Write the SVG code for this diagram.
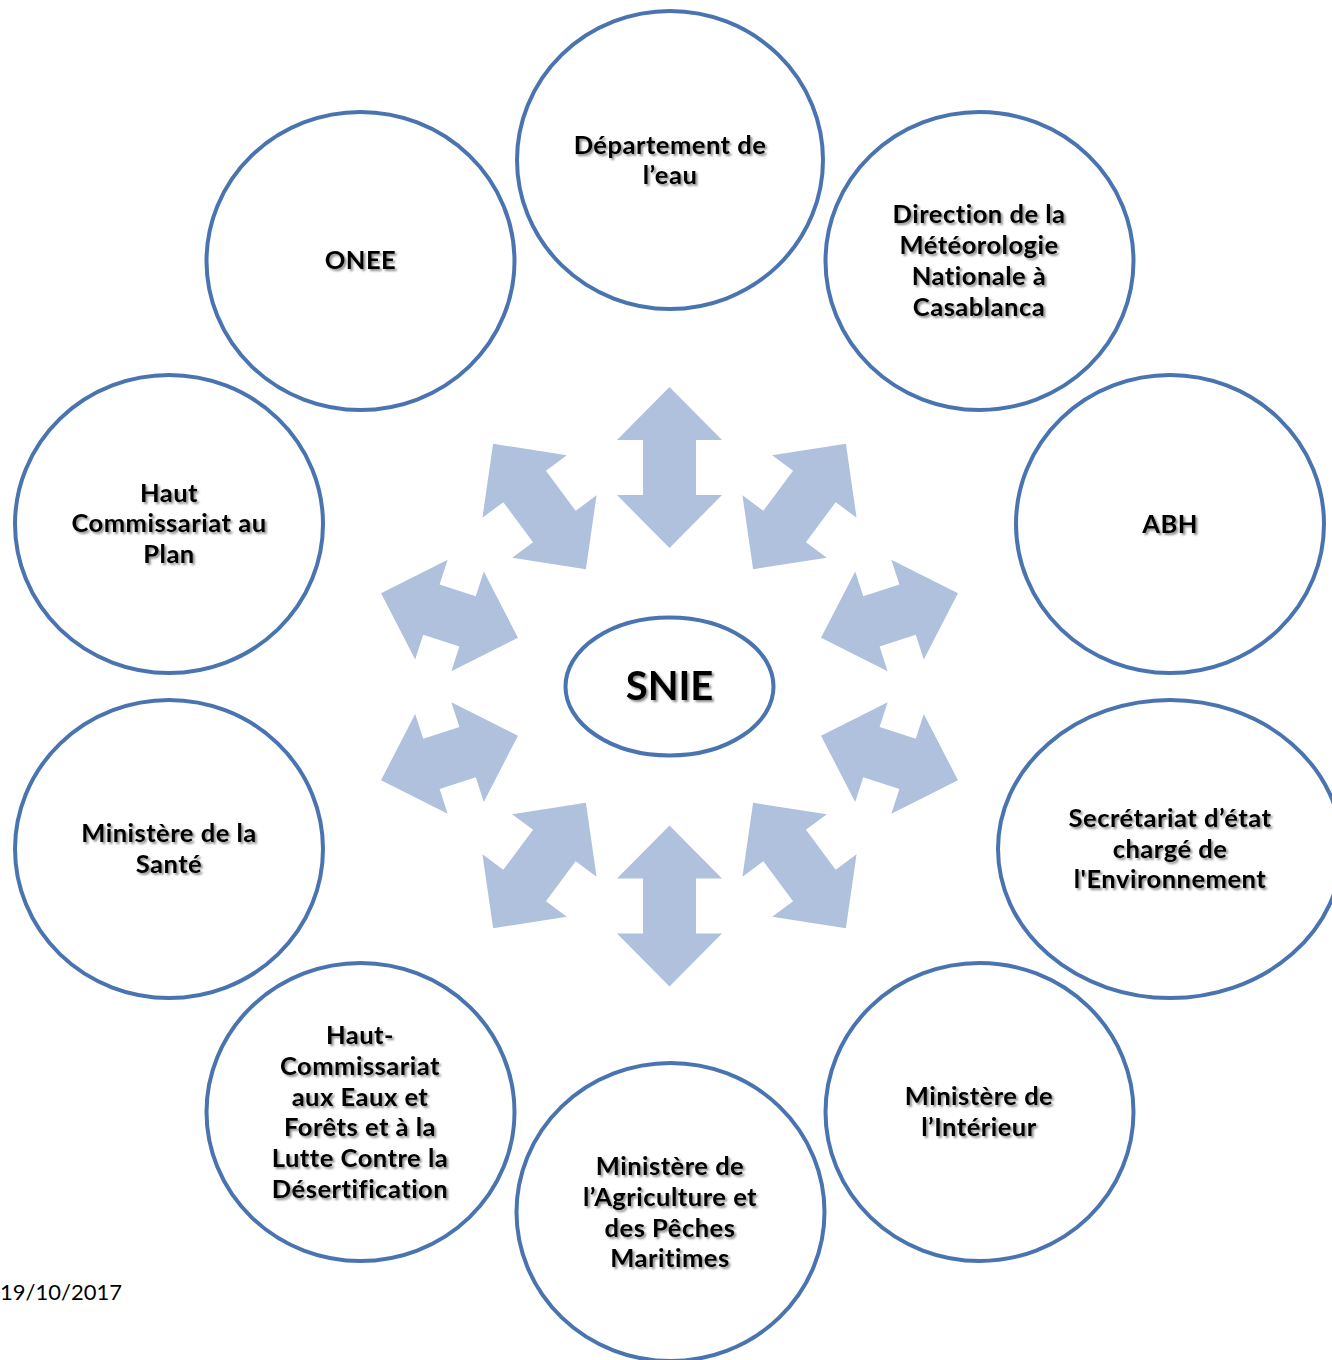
<svg xmlns="http://www.w3.org/2000/svg" xmlns:xlink="http://www.w3.org/1999/xlink" width="1332" height="1360" viewBox="0 0 1332 1360">
<style>
.node{fill:#ffffff;stroke:#4a74b0;stroke-width:4}
.arrow{fill:#b0c1dd}
.lbl{font-family:Lato,"Open Sans","Liberation Sans",sans-serif;font-weight:bold;font-size:25.5px;letter-spacing:0.5px;fill:#000;text-anchor:middle}
.snie{font-family:Lato,"Open Sans","Liberation Sans",sans-serif;font-weight:bold;font-size:40px;fill:#000;text-anchor:middle}
.date{font-family:Lato,"Open Sans","Liberation Sans",sans-serif;font-size:22px;fill:#000}
</style>
<defs>
<filter id="sh" x="-10%" y="-20%" width="120%" height="150%">
<feDropShadow dx="2" dy="2" stdDeviation="1.2" flood-color="#000" flood-opacity="0.45"/>
</filter>
<polygon id="a161" points="0,-80.5 52.5,-27.5 26.5,-27.5 26.5,27.5 52.5,27.5 0,80.5 -52.5,27.5 -26.5,27.5 -26.5,-27.5 -52.5,-27.5"/>
<polygon id="a156" points="0,-78 52.5,-25 26.5,-25 26.5,25 52.5,25 0,78 -52.5,25 -26.5,25 -26.5,-25 -52.5,-25"/>
<polygon id="a144" points="0,-72 52.5,-19 26.5,-19 26.5,19 52.5,19 0,72 -52.5,19 -26.5,19 -26.5,-19 -52.5,-19"/>
</defs>
<rect width="1332" height="1360" fill="#ffffff"/>
<g id="connectors" class="arrow">
<use xlink:href="#a161" transform="translate(669.5,467.5)"/>
<use xlink:href="#a156" transform="translate(539.5,506.5) rotate(-36.5)"/>
<use xlink:href="#a156" transform="translate(799.5,506.5) rotate(36.5)"/>
<use xlink:href="#a144" transform="translate(449.5,615.5) rotate(-72)"/>
<use xlink:href="#a144" transform="translate(889.5,615.5) rotate(72)"/>
<use xlink:href="#a144" transform="translate(449.5,758) rotate(-108)"/>
<use xlink:href="#a144" transform="translate(889.5,758) rotate(108)"/>
<use xlink:href="#a156" transform="translate(539.5,865.5) rotate(-143.5)"/>
<use xlink:href="#a156" transform="translate(799.5,865.5) rotate(143.5)"/>
<use xlink:href="#a161" transform="translate(669.5,906)"/>
</g>
<g id="snie">
<ellipse class="node" cx="669.5" cy="686.5" rx="104" ry="69"/>
<text class="snie" x="669.5" y="700" filter="url(#sh)">SNIE</text>
</g>
<g id="n-departement">
<ellipse class="node" cx="670" cy="160" rx="153" ry="149"/>
<text class="lbl" filter="url(#sh)"><tspan x="670" y="154">Département de</tspan><tspan x="670" y="184">l’eau</tspan></text>
</g>
<g id="n-onee">
<ellipse class="node" cx="360.5" cy="261" rx="154" ry="149"/>
<text class="lbl" filter="url(#sh)"><tspan x="360.5" y="269">ONEE</tspan></text>
</g>
<g id="n-direction">
<ellipse class="node" cx="979.5" cy="261" rx="154" ry="149"/>
<text class="lbl" filter="url(#sh)"><tspan x="979" y="223">Direction de la</tspan><tspan x="979" y="254">Météorologie</tspan><tspan x="979" y="285">Nationale à</tspan><tspan x="979" y="316">Casablanca</tspan></text>
</g>
<g id="n-hcp">
<ellipse class="node" cx="169" cy="524" rx="154" ry="149"/>
<text class="lbl" filter="url(#sh)"><tspan x="169" y="502">Haut</tspan><tspan x="169" y="532">Commissariat au</tspan><tspan x="169" y="563">Plan</tspan></text>
</g>
<g id="n-abh">
<ellipse class="node" cx="1170" cy="524" rx="154" ry="149"/>
<text class="lbl" filter="url(#sh)"><tspan x="1170" y="533">ABH</tspan></text>
</g>
<g id="n-sante">
<ellipse class="node" cx="169" cy="849" rx="154" ry="149"/>
<text class="lbl" filter="url(#sh)"><tspan x="169" y="842">Ministère de la</tspan><tspan x="169" y="873">Santé</tspan></text>
</g>
<g id="n-secretariat">
<ellipse class="node" cx="1170" cy="849" rx="172" ry="149"/>
<text class="lbl" filter="url(#sh)"><tspan x="1170" y="827">Secrétariat d’état</tspan><tspan x="1170" y="858">chargé de</tspan><tspan x="1170" y="888">l'Environnement</tspan></text>
</g>
<g id="n-hcef">
<ellipse class="node" cx="360.5" cy="1112" rx="154" ry="149"/>
<text class="lbl" filter="url(#sh)"><tspan x="360" y="1044">Haut-</tspan><tspan x="360" y="1075">Commissariat</tspan><tspan x="360" y="1106">aux Eaux et</tspan><tspan x="360" y="1136">Forêts et à la</tspan><tspan x="360" y="1167">Lutte Contre la</tspan><tspan x="360" y="1198">Désertification</tspan></text>
</g>
<g id="n-interieur">
<ellipse class="node" cx="979.5" cy="1112" rx="154" ry="149"/>
<text class="lbl" filter="url(#sh)"><tspan x="979" y="1105">Ministère de</tspan><tspan x="979" y="1136">l’Intérieur</tspan></text>
</g>
<g id="n-agriculture">
<ellipse class="node" cx="670.5" cy="1212" rx="154" ry="149"/>
<text class="lbl" filter="url(#sh)"><tspan x="670" y="1175">Ministère de</tspan><tspan x="670" y="1206">l’Agriculture et</tspan><tspan x="670" y="1237">des Pêches</tspan><tspan x="670" y="1267">Maritimes</tspan></text>
</g>
<text class="date" x="0" y="1300">19/10/2017</text>
</svg>
